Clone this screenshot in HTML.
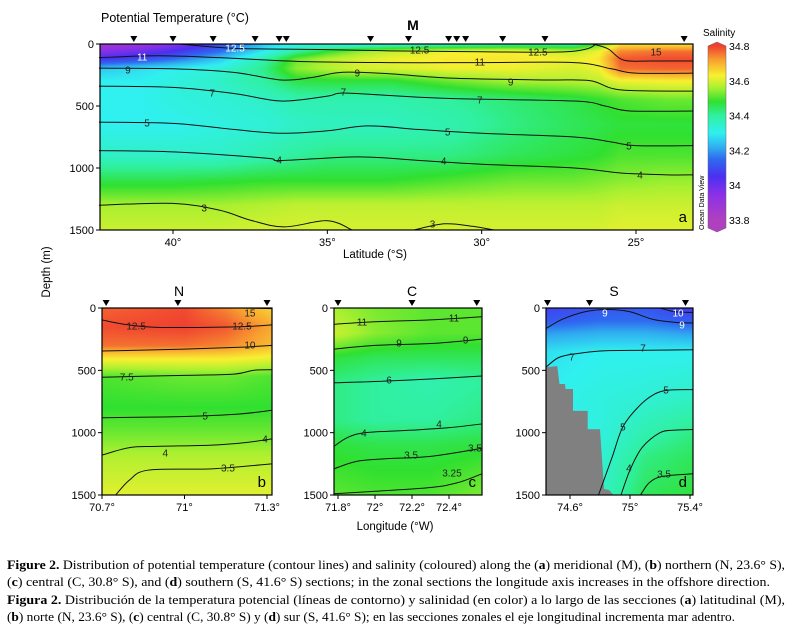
<!DOCTYPE html>
<html><head><meta charset="utf-8"><style>
body{margin:0;background:#fff;width:794px;height:636px;overflow:hidden;position:relative;font-family:"Liberation Sans",sans-serif}
canvas{position:absolute}
svg{position:absolute;left:0;top:0}
</style></head><body>
<canvas id="cvM"></canvas>
<canvas id="cvN"></canvas>
<canvas id="cvC"></canvas>
<canvas id="cvS"></canvas>
<svg id="sv" width="794" height="636">
<defs><linearGradient id="cbg" x1="0" y1="0" x2="0" y2="1"></linearGradient></defs>
<text x="101" y="22" font-size="12.5">Potential Temperature (°C)</text>
<text x="413" y="30" font-size="14" font-weight="bold" text-anchor="middle">M</text>
<text x="375" y="258" font-size="11.5" text-anchor="middle">Latitude (°S)</text>
<text x="395" y="530" font-size="11.5" text-anchor="middle">Longitude (°W)</text>
<text transform="translate(50,272) rotate(-90)" font-size="11.5" text-anchor="middle">Depth (m)</text>
<text x="179" y="296" font-size="14" text-anchor="middle">N</text>
<text x="412" y="296" font-size="14" text-anchor="middle">C</text>
<text x="614" y="296" font-size="14" text-anchor="middle">S</text>
<text x="703" y="36" font-size="10">Salinity</text>
<text transform="translate(704,230) rotate(-90)" font-size="7">Ocean Data View</text>
<g font-family="Liberation Serif,serif" font-size="12.2">
<text x="7" y="569" textLength="778" lengthAdjust="spacingAndGlyphs"><tspan font-weight="bold">Figure 2.</tspan> Distribution of potential temperature (contour lines) and salinity (coloured) along the (<tspan font-weight="bold">a</tspan>) meridional (M), (<tspan font-weight="bold">b</tspan>) northern (N, 23.6° S),</text>
<text x="7" y="586" textLength="763" lengthAdjust="spacingAndGlyphs">(<tspan font-weight="bold">c</tspan>) central (C, 30.8° S), and (<tspan font-weight="bold">d</tspan>) southern (S, 41.6° S) sections; in the zonal sections the longitude axis increases in the offshore direction.</text>
<text x="7" y="604" textLength="778" lengthAdjust="spacingAndGlyphs"><tspan font-weight="bold">Figura 2.</tspan> Distribución de la temperatura potencial (líneas de contorno) y salinidad (en color) a lo largo de las secciones (<tspan font-weight="bold">a</tspan>) latitudinal (M),</text>
<text x="7" y="621" textLength="728" lengthAdjust="spacingAndGlyphs">(<tspan font-weight="bold">b</tspan>) norte (N, 23.6° S), (<tspan font-weight="bold">c</tspan>) central (C, 30.8° S) y (<tspan font-weight="bold">d</tspan>) sur (S, 41.6° S); en las secciones zonales el eje longitudinal incrementa mar adentro.</text>
</g>
</svg>
<script>
// ---- colormap ----
const cmapVals=[33.8,33.95,34.05,34.15,34.22,34.3,34.4,34.48,34.56,34.63,34.72,34.8];
const cmapCols=['#b040c0','#8a30e8','#4a30f0','#2f6af0','#30b0f0','#30f0f0','#30f0a0','#30e030','#a8f030','#f8f030','#f8a030','#f04030'];
const cbTicks=[34.8,34.6,34.4,34.2,34,33.8];
const cbTickLabels=['34.8','34.6','34.4','34.2','34','33.8'];
// ---- panel a (meridional) ----
const mLats=[42.4,41,40,38.5,37,36,35,34,33,31,29,27,26.2,25.5,24,23.1];
const mDepths=[0,60,120,200,300,450,650,900,1100,1300,1500];
const mSal=[
[33.85,33.9,33.95,34.1,34.25,34.3,34.3,34.3,34.32,34.35,34.38,34.38,34.5,34.64,34.64,34.64],
[33.95,34.0,34.05,34.15,34.3,34.4,34.48,34.54,34.58,34.62,34.63,34.58,34.62,34.74,34.76,34.76],
[34.05,34.1,34.15,34.25,34.38,34.52,34.57,34.6,34.62,34.64,34.64,34.62,34.64,34.78,34.79,34.79],
[34.25,34.28,34.3,34.33,34.42,34.54,34.57,34.6,34.6,34.62,34.62,34.6,34.62,34.76,34.77,34.77],
[34.3,34.3,34.32,34.35,34.4,34.46,34.47,34.47,34.47,34.52,34.56,34.57,34.58,34.62,34.63,34.63],
[34.3,34.3,34.32,34.33,34.35,34.38,34.38,34.38,34.38,34.4,34.43,34.46,34.48,34.5,34.52,34.52],
[34.3,34.3,34.3,34.32,34.33,34.35,34.36,34.36,34.36,34.38,34.42,34.45,34.46,34.47,34.47,34.47],
[34.35,34.35,34.35,34.35,34.38,34.4,34.42,34.42,34.42,34.42,34.45,34.47,34.48,34.5,34.5,34.5],
[34.46,34.46,34.46,34.47,34.48,34.48,34.48,34.48,34.48,34.5,34.52,34.52,34.53,34.54,34.55,34.55],
[34.56,34.56,34.56,34.56,34.57,34.58,34.58,34.58,34.58,34.58,34.58,34.58,34.58,34.59,34.59,34.59],
[34.59,34.59,34.59,34.59,34.6,34.6,34.6,34.6,34.6,34.6,34.6,34.6,34.6,34.61,34.61,34.61]];
const mContours=[
{lv:'15',pts:[[26.4,0],[25.9,40],[25.4,130],[24.5,137],[23.15,137]]},
{lv:'12.5',pts:[[39.8,0],[38,35],[35,45],[33,55],[30,62],[27.5,65],[26.6,40],[26.3,0]]},
{lv:'11',pts:[[42.4,110],[40.5,95],[38.5,110],[36,140],[33,150],[30,150],[27,150],[25.8,200],[25,235],[23.15,235]]},
{lv:'9',pts:[[42.4,195],[40,200],[38,230],[36.5,290],[35.5,270],[34.5,228],[33,240],[31,275],[28,290],[26.5,295],[25.5,370],[23.15,380]]},
{lv:'7',pts:[[42.4,340],[40,350],[38,400],[36.5,460],[35,420],[34.5,395],[33,415],[31,440],[27,460],[26,500],[25.2,540],[23.15,540]]},
{lv:'5',pts:[[42.4,630],[40,640],[38,690],[36.5,720],[35,700],[33.7,660],[32,690],[30,720],[27,750],[25.8,790],[25,820],[23.15,820]]},
{lv:'4',pts:[[42.4,860],[40,870],[37,920],[36.5,940],[34,910],[32,940],[30,970],[27,1000],[25.5,1040],[24,1055],[23.15,1055]]},
{lv:'3',pts:[[42.4,1300],[40,1285],[38.5,1340],[37.5,1420],[36.4,1475],[35,1425],[34.2,1500]]},
{lv:'3',pts:[[32.2,1500],[31.2,1450],[30.3,1470],[29.6,1500]]}];
const mLabels=[[37.99,32,'12.5',1],[41.0,105,'11',1],[41.46,210,'9',0],[38.73,395,'7',0],[40.84,637,'5',0],[36.56,935,'4',0],[38.99,1323,'3',0],[34.03,234,'9',0],[34.48,387,'7',0],[32.01,48,'12.5',0],[31.1,710,'5',0],[31.23,944,'4',0],[31.59,1452,'3',0],[30.06,145,'11',0],[29.06,306,'9',0],[30.06,452,'7',0],[28.18,65,'12.5',0],[24.35,65,'15',0],[25.23,823,'5',0],[24.87,1057,'4',0]];
const mStations=[41.27,40.0,38.7,37.34,36.56,36.33,33.6,32.37,31.07,30.81,30.52,29.32,27.95,23.44];
const mTicks=[40,35,30,25];
// ---- panel b (north) ----
const nLons=[70.7,71.0,71.15,71.318];
const nDepths=[0,150,300,400,550,800,1000,1200,1500];
const nSal=[[34.77,34.79,34.74,34.66],[34.79,34.8,34.78,34.71],[34.76,34.76,34.74,34.69],[34.64,34.64,34.64,34.62],[34.5,34.52,34.52,34.5],[34.48,34.48,34.48,34.48],[34.52,34.52,34.52,34.52],[34.57,34.57,34.57,34.57],[34.61,34.61,34.61,34.61]];
const nContours=[
{lv:'15',pts:[[71.2,0],[71.318,5]]},
{lv:'12.5',pts:[[70.7,95],[70.78,130],[70.9,155],[71.2,150],[71.318,135]]},
{lv:'10',pts:[[70.7,345],[71.0,330],[71.2,315],[71.318,300]]},
{lv:'7.5',pts:[[70.7,555],[71.0,540],[71.18,530],[71.25,500],[71.318,495]]},
{lv:'5',pts:[[70.7,880],[71.0,870],[71.2,850],[71.318,820]]},
{lv:'4',pts:[[70.7,1180],[70.8,1120],[70.9,1110],[71.1,1100],[71.22,1080],[71.318,1050]]},
{lv:'3.5',pts:[[70.75,1500],[70.8,1380],[70.87,1300],[71.1,1290],[71.318,1250]]}];
const nLabels=[[71.238,40,'15',0],[70.824,144,'12.5',0],[71.209,144,'12.5',0],[71.238,297,'10',0],[70.79,553,'7.5',0],[71.075,866,'5',0],[70.93,1163,'4',0],[71.293,1050,'4',0],[71.158,1283,'3.5',0]];
const nStations=[70.715,70.976,71.3];
const nTicks=[70.7,71,71.3];
const nTickLabels=['70.7°','71°','71.3°'];
// ---- panel c (central) ----
const cLons=[71.778,72.0,72.3,72.578];
const cDepths=[0,200,400,600,900,1100,1500];
const cSal=[[34.56,34.53,34.51,34.51],[34.59,34.54,34.51,34.51],[34.47,34.45,34.45,34.45],[34.42,34.4,34.38,34.4],[34.42,34.4,34.4,34.42],[34.47,34.46,34.46,34.47],[34.51,34.5,34.5,34.53]];
const cContours=[
{lv:'11',pts:[[71.778,130],[72.0,110],[72.3,95],[72.578,70]]},
{lv:'9',pts:[[71.778,330],[72.0,300],[72.3,285],[72.578,250]]},
{lv:'6',pts:[[71.778,600],[72.0,590],[72.3,570],[72.578,545]]},
{lv:'4',pts:[[71.778,1110],[71.85,1040],[71.95,1000],[72.2,980],[72.4,960],[72.578,930]]},
{lv:'3.5',pts:[[71.778,1290],[71.9,1230],[72.05,1210],[72.3,1190],[72.578,1125]]},
{lv:'3.25',pts:[[71.778,1490],[72.0,1470],[72.3,1440],[72.45,1400],[72.578,1330]]}];
const cLabels=[[71.93,112,'11',0],[72.427,80,'11',0],[72.13,281,'9',0],[72.49,257,'9',0],[72.076,577,'6',0],[71.94,1002,'4',0],[72.346,930,'4',0],[72.195,1179,'3.5',0],[72.54,1123,'3.5',0],[72.416,1323,'3.25',0]];
const cStations=[71.8,72.2,72.55];
const cTicks=[71.8,72,72.2,72.4];
const cTickLabels=['71.8°','72°','72.2°','72.4°'];
// ---- panel d (south) ----
const sLons=[74.44,74.8,75.1,75.42];
const sDepths=[0,100,200,350,700,1000,1200,1500];
const sSal=[[34.08,34.12,34.12,34.07],[34.12,34.15,34.15,34.12],[34.2,34.22,34.22,34.2],[34.28,34.3,34.3,34.3],[34.3,34.32,34.33,34.35],[34.3,34.32,34.38,34.42],[34.3,34.33,34.42,34.45],[34.3,34.35,34.45,34.47]];
const sContours=[
{lv:'10',pts:[[75.2,0],[75.3,30],[75.42,35]]},
{lv:'9',pts:[[74.44,165],[74.55,90],[74.7,30],[74.85,12],[75.0,30],[75.15,90],[75.3,115],[75.42,120]]},
{lv:'7',pts:[[74.44,475],[74.52,400],[74.62,370],[74.8,345],[75.0,340],[75.42,335]]},
{lv:'5',pts:[[74.79,1500],[74.88,1200],[74.95,960],[75.05,800],[75.15,700],[75.25,660],[75.42,655]]},
{lv:'4',pts:[[74.94,1500],[75.0,1300],[75.08,1120],[75.2,1000],[75.3,980],[75.42,975]]},
{lv:'3.5',pts:[[75.07,1500],[75.13,1400],[75.22,1350],[75.42,1330]]}];
const sLabels=[[74.833,40,'9',1],[75.32,40,'10',1],[75.347,136,'9',1],[74.613,393,'7',0],[75.087,321,'7',0],[75.24,658,'5',0],[74.953,954,'5',0],[74.993,1283,'4',0],[75.227,1331,'3.5',0]];
const sTopo=[[74.44,476],[74.515,465],[74.53,610],[74.567,610],[74.57,650],[74.62,650],[74.62,825],[74.718,825],[74.718,973],[74.8,973],[74.827,1452],[74.86,1460],[74.89,1500],[74.44,1500]];
const sStations=[74.45,74.73,75.37];
const sTicks=[74.6,75,75.4];
const sTickLabels=['74.6°','75°','75.4°'];
const depthTicks=[0,500,1000,1500];

const NS='http://www.w3.org/2000/svg';
const sv=document.getElementById('sv');
function mk(tag,attrs,parent){const e=document.createElementNS(NS,tag);for(const k in attrs)e.setAttribute(k,attrs[k]);(parent||sv).appendChild(e);return e;}
function scale(d0,d1,p0,p1){const f=v=>p0+(v-d0)/(d1-d0)*(p1-p0);f.inv=p=>d0+(p-p0)/(p1-p0)*(d1-d0);return f;}
function hex(c){return [parseInt(c.substr(1,2),16),parseInt(c.substr(3,2),16),parseInt(c.substr(5,2),16)];}
const cmRGB=cmapCols.map(hex);
function cmap(v){if(v<=cmapVals[0])return cmRGB[0];const n=cmapVals.length;if(v>=cmapVals[n-1])return cmRGB[n-1];
 for(let i=0;i<n-1;i++){if(v<=cmapVals[i+1]){const t=(v-cmapVals[i])/(cmapVals[i+1]-cmapVals[i]);const a=cmRGB[i],b=cmRGB[i+1];return [a[0]+(b[0]-a[0])*t,a[1]+(b[1]-a[1])*t,a[2]+(b[2]-a[2])*t];}}}
function seg(arr,v){const asc=arr[arr.length-1]>arr[0];for(let i=0;i<arr.length-1;i++){const a=arr[i],b=arr[i+1];if(asc?(v<=b):(v>=b)){let t=(v-a)/(b-a);t=Math.max(0,Math.min(1,t));return [i,t];}}
 return [arr.length-2,1];}
function interp(xs,ys,g,x,y){const [i,tx]=seg(xs,x);const [j,ty]=seg(ys,y);
 const a=g[j][i]*(1-tx)+g[j][i+1]*tx,b=g[j+1][i]*(1-tx)+g[j+1][i+1]*tx;return a*(1-ty)+b*ty;}
function catmull(p){let d=`M${p[0][0]},${p[0][1]}`;for(let i=0;i<p.length-1;i++){const p0=p[Math.max(0,i-1)],p1=p[i],p2=p[i+1],p3=p[Math.min(p.length-1,i+2)];
 d+=` C${p1[0]+(p2[0]-p0[0])/6},${p1[1]+(p2[1]-p0[1])/6} ${p2[0]-(p3[0]-p1[0])/6},${p2[1]-(p3[1]-p1[1])/6} ${p2[0]},${p2[1]}`;}return d;}

function panel(o){
 const {id,name,x0,x1,y0,y1,xs,ys,g,X,Y}=o;
 const cv=document.getElementById(id);const w=x1-x0,h=y1-y0;
 cv.width=w;cv.height=h;cv.style.left=x0+'px';cv.style.top=y0+'px';
 const ctx=cv.getContext('2d');const im=ctx.createImageData(w,h);
 for(let py=0;py<h;py++){const dep=Y.inv(y0+py+0.5);for(let px=0;px<w;px++){const lo=X.inv(x0+px+0.5);const c=cmap(interp(xs,ys,g,lo,dep));const k=(py*w+px)*4;im.data[k]=c[0];im.data[k+1]=c[1];im.data[k+2]=c[2];im.data[k+3]=255;}}
 ctx.putImageData(im,0,0);
 const grp=mk('g',{});
 
 
 if(o.topo){const tp=mk('polygon',{points:o.topo.map(p=>X(p[0])+','+Y(p[1])).join(' '),fill:'#808080'},grp);
  
  }
 o.contours.forEach(c=>{const p=mk('path',{d:catmull(c.pts.map(q=>[X(q[0]),Y(q[1])])),fill:'none',stroke:'#111','stroke-width':1},grp);
  
  });
 o.labels.forEach(l=>{const t=mk('text',{x:X(l[0]),y:Y(l[1])+3.5,'font-size':10,'text-anchor':'middle',fill:l[3]?'#fff':'#222'},grp);t.textContent=l[2];
  
  });
 const fr=mk('rect',{x:x0,y:y0,width:w,height:h,fill:'none',stroke:'#000','stroke-width':1.2},grp);
 
 
 o.stations.forEach(s=>{const x=X(s);const tr=mk('polygon',{points:`${x-3.5},${y0-8} ${x+3.5},${y0-8} ${x},${y0-2}`,fill:'#000'},grp);
  
  });
 depthTicks.forEach(d=>{const y=Y(d);mk('line',{x1:x0-4,x2:x0,y1:y,y2:y,stroke:'#000'},grp);
  const t=mk('text',{x:x0-6,y:y+4,'font-size':11,'text-anchor':'end'},grp);t.textContent=d;
  
  });
 o.ticks.forEach((v,i)=>{const x=X(v);mk('line',{x1:x,x2:x,y1:y1,y2:y1+4,stroke:'#000'},grp);
  const t=mk('text',{x:x,y:y1+16,'font-size':11,'text-anchor':'middle'},grp);t.textContent=o.tickLabels[i];
  
  });
 const lt=mk('text',{x:x1-6,y:y1-8,'font-size':15,'text-anchor':'end'},grp);lt.textContent=o.letter;
 
 
}
const dY=scale(0,1500,308,495);
panel({id:'cvM',name:'meridional',x0:100,x1:693,y0:44,y1:230,xs:mLats,ys:mDepths,g:mSal,X:scale(40,25,173,636),Y:scale(0,1500,44,230),contours:mContours,labels:mLabels,stations:mStations,ticks:mTicks,tickLabels:mTicks.map(v=>v+'°'),letter:'a'});
panel({id:'cvN',name:'northern',x0:102,x1:272,y0:308,y1:495,xs:nLons,ys:nDepths,g:nSal,X:scale(70.7,71.3,102,267),Y:dY,contours:nContours,labels:nLabels,stations:nStations,ticks:nTicks,tickLabels:nTickLabels,letter:'b'});
panel({id:'cvC',name:'central',x0:334,x1:482,y0:308,y1:495,xs:cLons,ys:cDepths,g:cSal,X:scale(71.8,72.4,338,449),Y:dY,contours:cContours,labels:cLabels,stations:cStations,ticks:cTicks,tickLabels:cTickLabels,letter:'c'});
panel({id:'cvS',name:'southern',x0:546,x1:693,y0:308,y1:495,xs:sLons,ys:sDepths,g:sSal,X:scale(74.6,75.4,570,690),Y:dY,contours:sContours,labels:sLabels,stations:sStations,ticks:sTicks,tickLabels:sTickLabels,letter:'d',topo:sTopo});
// colorbar
const cbY=scale(34.8,33.8,46,220);
const grad=document.getElementById('cbg');
cmapVals.slice().reverse().forEach((v,i)=>{const off=(cbY(v)-42)/(232-42);mk('stop',{offset:Math.max(0,Math.min(1,off)),'stop-color':cmapCols[cmapVals.length-1-i]},grad);});
const cb=mk('polygon',{points:'708,46 717,42 726,46 726,228 717,232 708,228',fill:'url(#cbg)',stroke:'#666','stroke-width':0.5});


cbTicks.forEach((v,i)=>{const t=mk('text',{x:729,y:cbY(v)+4,'font-size':10.5});t.textContent=cbTickLabels[i];
 
 });
</script>
</body></html>
